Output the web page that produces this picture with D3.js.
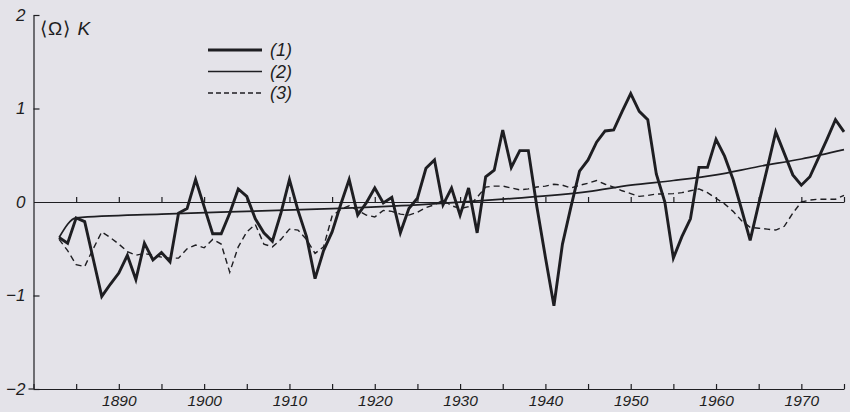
<!DOCTYPE html>
<html>
<head>
<meta charset="utf-8">
<script src="https://cdn.jsdelivr.net/npm/d3@7"></script>
<style>
  body { margin:0; background:#e4e3e9; }
  svg { display:block; }
  text { font-family:"Liberation Sans", Arial, sans-serif; font-style:italic; fill:#1e1e22; }
</style>
</head>
<body>
<div id="chart-area"></div>
<script>
const margin = {top:15, right:6, bottom:23, left:33.5};
const ink = '#1e1e22';

var width = 850 - margin.left - margin.right;
var height = 412 - margin.top - margin.bottom;

// (1) yearly values
const years1 = [1883,1884,1885,1886,1887,1888,1889,1890,1891,1892,1893,1894,1895,1896,1897,1898,1899,
  1900,1901,1902,1903,1904,1905,1906,1907,1908,1909,1910,1911,1912,1913,1914,1915,1916,1917,1918,1919,
  1920,1921,1922,1923,1924,1925,1926,1927,1928,1929,1930,1931,1932,1933,1934,1935,1936,1937,1938,1939,
  1940,1941,1942,1943,1944,1945,1946,1947,1948,1949,1950,1951,1952,1953,1954,1955,1956,1957,1958,1959,
  1960,1961,1962,1963,1964,1965,1966,1967,1968,1969,1970,1971,1972,1973,1974,1975];
const values1 = [-0.38,-0.44,-0.17,-0.21,-0.61,-1.01,-0.88,-0.76,-0.57,-0.83,-0.44,-0.62,-0.54,-0.64,-0.12,-0.07,0.24,
  -0.05,-0.34,-0.34,-0.12,0.14,0.06,-0.18,-0.33,-0.42,-0.12,0.24,-0.09,-0.37,-0.82,-0.52,-0.32,-0.03,0.24,-0.14,-0.01,
  0.15,-0.01,0.05,-0.33,-0.07,0.04,0.36,0.45,-0.03,0.15,-0.14,0.15,-0.33,0.27,0.34,0.77,0.37,0.55,0.55,-0.05,
  -0.59,-1.11,-0.45,-0.05,0.33,0.45,0.64,0.76,0.77,0.97,1.16,0.97,0.88,0.30,0.00,-0.60,-0.37,-0.18,0.37,0.37,
  0.67,0.49,0.24,-0.08,-0.41,-0.02,0.36,0.75,0.52,0.29,0.18,0.27,0.47,0.67,0.88,0.75];

// (2) trend
const years2 = [1883,1885,1895,1905,1915,1925,1935,1945,1950,1955,1960,1965,1970,1975];
const values2 = [-0.38,-0.17,-0.13,-0.10,-0.07,-0.03,0.03,0.11,0.18,0.23,0.29,0.38,0.46,0.56];

// (3) smoothed
const years3 = [1883,1884,1885,1886,1887,1888,1889,1890,1891,1892,1893,1894,1895,1896,1897,1898,1899,
  1900,1901,1902,1903,1904,1905,1906,1907,1908,1909,1910,1911,1912,1913,1914,1915,1916,1917,1918,1919,
  1920,1921,1922,1923,1924,1925,1926,1927,1928,1929,1930,1931,1932,1933,1934,1935,1936,1937,1938,1939,
  1940,1941,1942,1943,1944,1945,1946,1947,1948,1949,1950,1951,1952,1953,1954,1955,1956,1957,1958,1959,
  1960,1961,1962,1963,1964,1965,1966,1967,1968,1969,1970,1971,1972,1973,1974,1975];
const values3 = [-0.40,-0.52,-0.67,-0.69,-0.50,-0.32,-0.38,-0.45,-0.53,-0.57,-0.55,-0.57,-0.59,-0.60,-0.60,-0.50,-0.46,
  -0.49,-0.40,-0.45,-0.75,-0.48,-0.32,-0.24,-0.45,-0.48,-0.40,-0.29,-0.30,-0.40,-0.55,-0.48,-0.15,-0.08,-0.04,-0.09,-0.14,
  -0.16,-0.09,-0.10,-0.13,-0.14,-0.11,-0.06,-0.03,0.02,-0.04,-0.07,-0.05,0.05,0.16,0.17,0.17,0.15,0.13,0.14,0.16,
  0.17,0.19,0.18,0.15,0.18,0.20,0.23,0.19,0.16,0.12,0.09,0.06,0.07,0.085,0.085,0.09,0.10,0.12,0.14,0.10,
  0.04,-0.02,-0.10,-0.20,-0.27,-0.28,-0.29,-0.30,-0.26,-0.12,0.00,0.02,0.03,0.03,0.03,0.07];

const yTicks = [-2,-1,0,1,2];
const legendLabels = ['(1)','(2)','(3)'];

var svg = d3.select("#chart-area").append("svg")
    .attr("width", width + margin.left + margin.right)
    .attr("height", height + margin.top + margin.bottom);

var g = svg.append("g")
    .attr("transform", "translate(" + margin.left + "," + margin.top + ")");

var xScale = d3.scaleLinear().domain([1880,1975]).range([0,width]);
var yScale = d3.scaleLinear().domain([-2,2]).range([height,0]);

var tickYears = d3.range(1880,1976,5);

// bottom axis at -2
var xAxis = d3.axisBottom(xScale)
    .tickValues(tickYears)
    .tickSizeInner(-5)
    .tickSizeOuter(0)
    .tickPadding(6)
    .tickFormat(d => (d % 10 == 0 && d > 1880) ? d : "");

g.append("g")
 .attr("class","xaxis")
 .attr("transform",`translate(0,${height})`)
 .call(xAxis);

// zero line with small ticks
var zeroAxis = d3.axisBottom(xScale)
    .tickValues(tickYears.slice(1))
    .tickSizeInner(-5)
    .tickSizeOuter(0)
    .tickFormat("");

g.append("g")
 .attr("class","zeroaxis")
 .attr("transform",`translate(0,${yScale(0)})`)
 .call(zeroAxis);

var yAxis = d3.axisLeft(yScale)
    .tickValues(yTicks)
    .tickSizeInner(-6)
    .tickSizeOuter(0)
    .tickPadding(8)
    .tickFormat(d => d < 0 ? "\u2212" + Math.abs(d) : d);

g.append("g")
 .attr("class","yaxis")
 .call(yAxis);

// small crossing tick at -2
g.append("line")
 .attr("x1",-5).attr("x2",0)
 .attr("y1",yScale(-2)).attr("y2",yScale(-2))
 .attr("stroke",ink).attr("stroke-width",1.2);

g.selectAll(".xaxis path, .xaxis line, .zeroaxis path, .zeroaxis line, .yaxis path, .yaxis line")
 .attr("stroke",ink).attr("stroke-width",1.2);
g.selectAll(".yaxis .tick").filter(d => d == 0).select("line").remove();
g.selectAll(".xaxis text, .yaxis text")
 .attr("font-family","Liberation Sans, Arial, sans-serif")
 .attr("font-style","italic")
 .attr("font-size",17)
 .attr("fill",ink);
g.selectAll(".xaxis text").attr("font-size",15.5);

var line = d3.line()
    .x(d => xScale(d[0]))
    .y(d => yScale(d[1]));

var smooth = d3.line()
    .x(d => xScale(d[0]))
    .y(d => yScale(d[1]))
    .curve(d3.curveMonotoneX);

g.append("path")
 .datum(d3.zip(years3, values3))
 .attr("fill","none")
 .attr("stroke",ink).attr("stroke-width",1.4)
 .attr("stroke-dasharray","6,4")
 .attr("d",line);

g.append("path")
 .datum(d3.zip(years2, values2))
 .attr("fill","none")
 .attr("stroke",ink).attr("stroke-width",1.7)
 .attr("d",smooth);

g.append("path")
 .datum(d3.zip(years1, values1))
 .attr("fill","none")
 .attr("stroke",ink).attr("stroke-width",2.9)
 .attr("stroke-linejoin","miter")
 .attr("d",line);

// y label
var ylab = svg.append("text")
 .attr("x",40)
 .attr("y",35)
 .attr("font-size",19)
 .attr("letter-spacing",1);
ylab.append("tspan").attr("font-style","normal").text("\u27E8\u03A9\u27E9 ");
ylab.append("tspan").text("K");

// legend
var legendStyles = [
  {w:2.9, dash:null},
  {w:1.7, dash:null},
  {w:1.4, dash:"5,3"}
];
var legend = svg.append("g").attr("class","legend");
legendLabels.forEach(function(lab,i){
    var yy = 50 + i*21.5;
    legend.append("line")
      .attr("x1",208).attr("x2",262)
      .attr("y1",yy).attr("y2",yy)
      .attr("stroke",ink)
      .attr("stroke-width",legendStyles[i].w)
      .attr("stroke-dasharray",legendStyles[i].dash);
    legend.append("text")
      .attr("x",270)
      .attr("y",yy + 6)
      .attr("font-size",18)
      .text(lab);
});
</script>
</body>
</html>
